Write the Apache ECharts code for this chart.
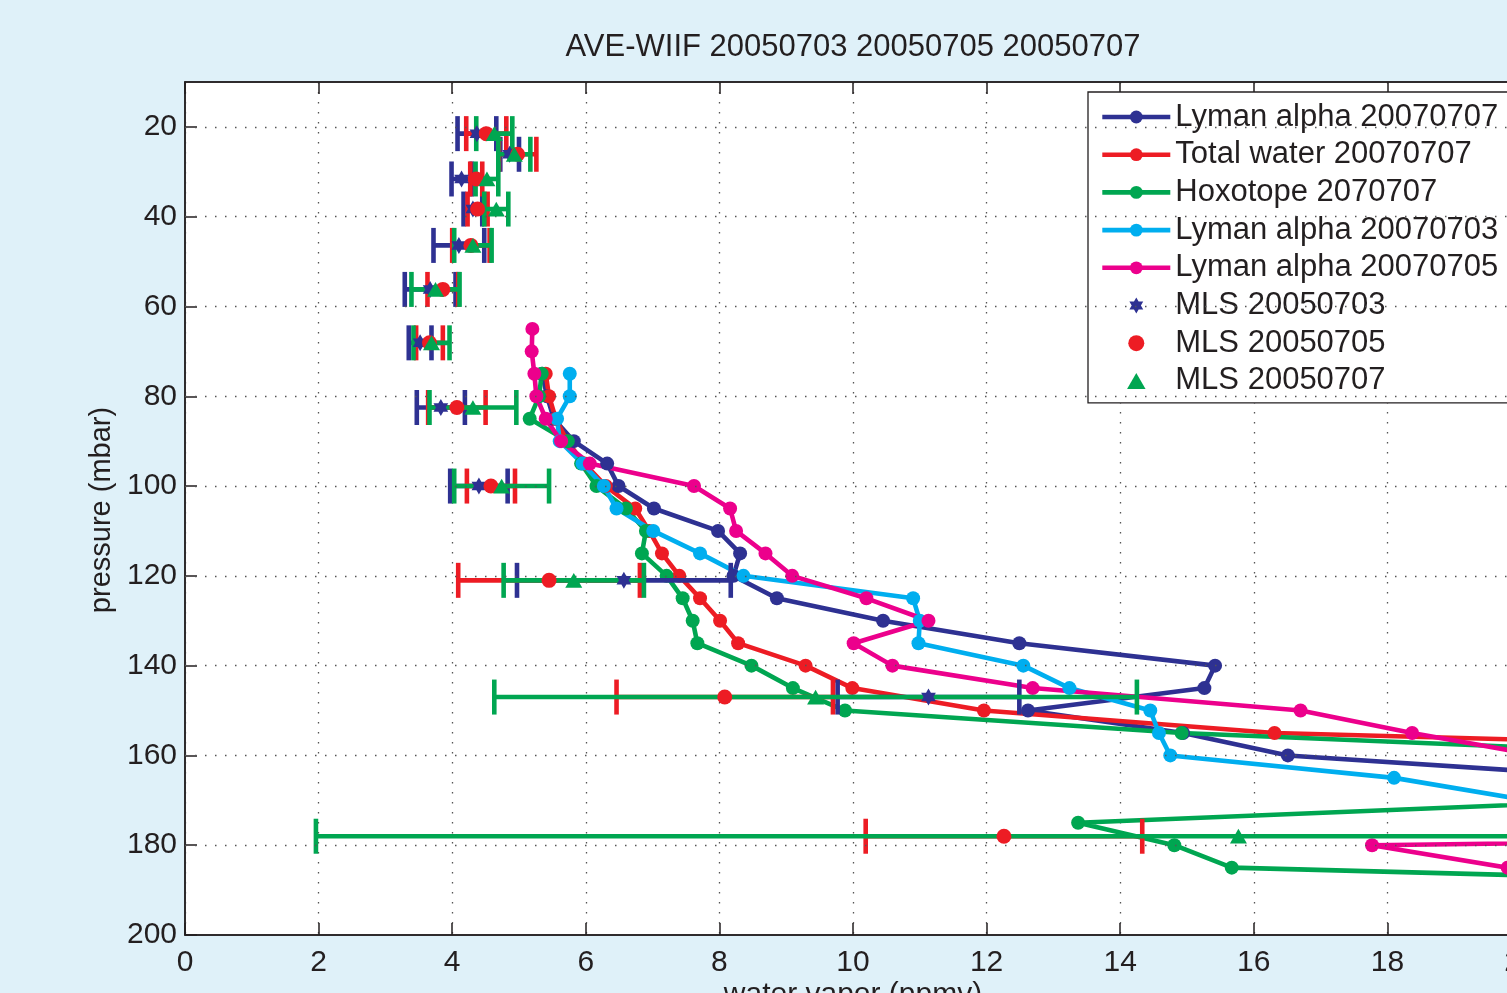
<!DOCTYPE html>
<html>
<head>
<meta charset="utf-8">
<title>AVE-WIIF water vapor profiles</title>
<script src="https://cdn.jsdelivr.net/npm/echarts@6/dist/echarts.min.js"></script>
<style>
  html, body { margin: 0; padding: 0; background: #dff1f9; }
  #chart { width: 1507px; height: 993px; }
</style>
</head>
<body>
<div id="chart"></div>
<script>
// ---- Profiles: [water vapor (ppmv), pressure (mbar)] ----
const lymanAlpha0707 = [[5.35,75],[5.42,80],[5.52,85],[5.82,90],[6.32,95],[6.49,100],[7.02,105],[7.98,110],[8.31,115],[8.21,120],[8.86,125],[10.45,130],[12.49,135],[15.42,140],[15.26,145],[12.62,150],[14.94,155],[16.51,160],[21.6,165]];
const totalWater0707 = [[5.40,75],[5.45,80],[5.55,85],[5.72,90],[5.98,95],[6.30,100],[6.74,105],[6.95,110],[7.14,115],[7.40,120],[7.71,125],[8.01,130],[8.28,135],[9.29,140],[9.99,145],[11.96,150],[16.31,155],[28.7,160]];
const hoxotope0707 = [[5.34,75],[5.30,80],[5.16,85],[5.73,90],[5.93,95],[6.16,100],[6.60,105],[6.90,110],[6.84,115],[7.21,120],[7.45,125],[7.60,130],[7.67,135],[8.48,140],[9.10,145],[9.88,150],[14.92,155],[23.0,160],[24.0,165],[21.6,170],[13.37,175],[14.81,180],[15.67,185],[28.5,190]];
const lymanAlpha0703 = [[5.76,75],[5.76,80],[5.57,85],[5.61,90],[5.95,95],[6.27,100],[6.46,105],[7.01,110],[7.71,115],[8.36,120],[10.90,125],[11.00,130],[10.98,135],[12.55,140],[13.24,145],[14.45,150],[14.58,155],[14.75,160],[18.10,165],[20.1,170]];
const lymanAlpha0705 = [[5.20,65],[5.19,70],[5.23,75],[5.26,80],[5.40,85],[5.63,90],[6.06,95],[7.62,100],[8.16,105],[8.25,110],[8.69,115],[9.09,120],[10.20,125],[11.13,130],[10.01,135],[10.59,140],[12.69,145],[16.70,150],[18.37,155],[20.25,160],[45,175],[17.77,180],[19.80,185]];

// ---- MLS retrievals: value and symmetric error at each pressure level ----
const mlsLevels  = [21.5, 26.1, 31.6, 38.3, 46.4, 56.2, 68.1, 82.5, 100, 121, 147, 178];
const mls0703    = [4.37, 4.86, 4.14, 4.31, 4.10, 3.67, 3.52, 3.83, 4.40, 6.57, 11.13, null];
const mls0703Err = [0.29, 0.14, 0.15, 0.14, 0.38, 0.38, 0.17, 0.36, 0.43, 1.60, 1.36, null];
const mls0705    = [4.51, 4.98, 4.36, 4.38, 4.28, 3.86, 3.66, 4.07, 4.58, 5.45, 8.08, 12.26];
const mls0705Err = [0.30, 0.28, 0.09, 0.15, 0.28, 0.23, 0.20, 0.43, 0.36, 1.36, 1.62, 2.07];
const mls0707    = [4.63, 4.93, 4.52, 4.66, 4.31, 3.75, 3.69, 4.31, 4.74, 5.82, 9.44, 15.77];
const mls0707Err = [0.27, 0.24, 0.17, 0.18, 0.28, 0.36, 0.27, 0.65, 0.71, 1.05, 4.81, 13.81];

// ---- Axis ticks ----
const pressureTicks = [20, 40, 60, 80, 100, 120, 140, 160, 180, 200];
const pressureGrid  = [20, 40, 60, 80, 100, 120, 140, 160, 180];

const INK = '#231f20';
const NAVY = '#2e3192', RED = '#ed1c24', GREEN = '#00a651', CYAN = '#00aeef', PINK = '#ec008c';
const FONT = '"Liberation Sans", Arial, Helvetica, sans-serif';

// six-pointed star marker
function hexagramPath() {
  const pts = [];
  for (let i = 0; i < 12; i++) {
    const a = -Math.PI / 2 + i * Math.PI / 6;
    const r = i % 2 === 0 ? 1 : 0.577;
    pts.push((r * Math.cos(a)).toFixed(3) + ' ' + (r * Math.sin(a)).toFixed(3));
  }
  return 'path://M' + pts.join(' L') + ' Z';
}
const STAR = hexagramPath();
const TRIANGLE = 'path://M0 -1 L0.866 0.5 L-0.866 0.5 Z';

function pointsOf(values) {
  const out = [];
  mlsLevels.forEach((p, i) => { if (values[i] != null) out.push([values[i], p]); });
  return out;
}
function barsOf(values, errs) {
  const out = [];
  mlsLevels.forEach((p, i) => {
    if (values[i] != null) out.push([values[i], p, values[i] - errs[i], values[i] + errs[i]]);
  });
  return out;
}

function errorBarSeries(name, color, data) {
  return {
    type: 'custom',
    name: name,
    data: data,
    encode: { x: 0, y: 1 },
    clip: true,
    silent: true,
    z: 4,
    renderItem: function (params, api) {
      const p = api.value(1);
      const a = api.coord([api.value(2), p]);
      const b = api.coord([api.value(3), p]);
      const h = 17.5;
      const style = { stroke: color, lineWidth: 4.6, fill: null };
      return {
        type: 'group',
        children: [
          { type: 'line', shape: { x1: a[0], y1: a[1], x2: b[0], y2: b[1] }, style: style },
          { type: 'line', shape: { x1: a[0], y1: a[1] - h, x2: a[0], y2: a[1] + h }, style: style },
          { type: 'line', shape: { x1: b[0], y1: b[1] - h, x2: b[0], y2: b[1] + h }, style: style }
        ]
      };
    }
  };
}

function profileSeries(name, color, data) {
  return {
    type: 'line',
    name: name,
    data: data,
    color: color,
    symbol: 'circle',
    symbolSize: 14,
    showSymbol: true,
    clip: true,
    z: 3,
    lineStyle: { width: 4.6, color: color },
    itemStyle: { color: color },
    emphasis: { disabled: true }
  };
}

function markerSeries(name, color, symbol, size, data) {
  return {
    type: 'scatter',
    name: name,
    data: data,
    color: color,
    symbol: symbol,
    symbolSize: size,
    symbolKeepAspect: true,
    clip: true,
    z: 5,
    itemStyle: { color: color, opacity: 1 },
    emphasis: { disabled: true }
  };
}

const legendNames = [
  'Lyman alpha 20070707', 'Total water 20070707', 'Hoxotope 2070707',
  'Lyman alpha 20070703', 'Lyman alpha 20070705',
  'MLS 20050703', 'MLS 20050705', 'MLS 20050707'
];

const axisLineStyle = { color: INK, width: 1.5 };
const dotted = { type: [1.5, 8.5], color: '#555', width: 1.3 };

const option = {
  backgroundColor: '#dff1f9',
  animation: false,
  textStyle: { fontFamily: FONT },
  grid: {
    left: 185, top: 82, width: 1336, height: 853,
    show: true, backgroundColor: '#ffffff', borderColor: INK, borderWidth: 1.5,
    containLabel: false, outerBoundsMode: 'none'
  },
  xAxis: [
    {
      type: 'value', min: 0, max: 20, interval: 2, position: 'bottom',
      axisLine: { show: true, lineStyle: axisLineStyle },
      axisTick: { show: true, inside: true, length: 12, lineStyle: axisLineStyle },
      axisLabel: { fontSize: 30, color: INK, margin: 13, fontFamily: FONT, showMinLabel: true, showMaxLabel: true, hideOverlap: false },
      splitLine: { show: true, lineStyle: dotted }
    },
    {
      type: 'value', min: 0, max: 20, interval: 2, position: 'top',
      axisLine: { show: true, lineStyle: axisLineStyle },
      axisTick: { show: true, inside: true, length: 12, lineStyle: axisLineStyle },
      axisLabel: { show: false },
      splitLine: { show: false }
    }
  ],
  yAxis: {
    type: 'value', min: 10, max: 200, inverse: true,
    axisLine: { show: true, lineStyle: axisLineStyle },
    axisTick: { show: true, inside: true, length: 12, lineStyle: axisLineStyle, customValues: pressureTicks },
    axisLabel: { fontSize: 30, color: INK, margin: 8, fontFamily: FONT, customValues: pressureTicks, hideOverlap: false, padding: [4, 0, 0, 0] },
    splitLine: { show: false }
  },
  legend: {
    orient: 'vertical',
    left: 1088, top: 92,
    backgroundColor: '#ffffff',
    borderColor: INK, borderWidth: 1.3, borderRadius: 0,
    padding: [9.5, 30, 6.5, 12],
    itemGap: 6.7, itemWidth: 68, itemHeight: 16,
    symbolKeepAspect: true,
    selectedMode: false,
    lineStyle: { width: 4.6 },
    textStyle: { fontSize: 31, color: INK, lineHeight: 31, fontFamily: FONT },
    data: legendNames
  },
  graphic: [
    {
      type: 'text', x: 853, y: 47, silent: true,
      style: { text: 'AVE-WIIF 20050703 20050705 20050707', fontSize: 31, fontFamily: FONT, fill: INK, align: 'center', verticalAlign: 'middle' }
    },
    {
      type: 'text', x: 102, y: 510, rotation: Math.PI / 2, silent: true,
      style: { text: 'pressure (mbar)', fontSize: 29, fontFamily: FONT, fill: INK, align: 'center', verticalAlign: 'middle' }
    },
    {
      type: 'text', x: 853, y: 995, silent: true,
      style: { text: 'water vapor (ppmv)', fontSize: 30, fontFamily: FONT, fill: INK, align: 'center', verticalAlign: 'middle' }
    }
  ],
  series: [
    // dotted pressure grid
    {
      type: 'line', name: 'pressure grid', data: [], silent: true, z: 1,
      markLine: {
        silent: true, symbol: ['none', 'none'], animation: false,
        label: { show: false },
        lineStyle: dotted,
        emphasis: { disabled: true },
        data: pressureGrid.map(v => ({ yAxis: v }))
      }
    },
    profileSeries('Lyman alpha 20070707', NAVY, lymanAlpha0707),
    profileSeries('Total water 20070707', RED, totalWater0707),
    profileSeries('Hoxotope 2070707', GREEN, hoxotope0707),
    profileSeries('Lyman alpha 20070703', CYAN, lymanAlpha0703),
    profileSeries('Lyman alpha 20070705', PINK, lymanAlpha0705),
    errorBarSeries('MLS 20050703 error', NAVY, barsOf(mls0703, mls0703Err)),
    errorBarSeries('MLS 20050705 error', RED, barsOf(mls0705, mls0705Err)),
    errorBarSeries('MLS 20050707 error', GREEN, barsOf(mls0707, mls0707Err)),
    markerSeries('MLS 20050703', NAVY, STAR, 17, pointsOf(mls0703)),
    markerSeries('MLS 20050705', RED, 'circle', 15, pointsOf(mls0705)),
    markerSeries('MLS 20050707', GREEN, TRIANGLE, 17, pointsOf(mls0707))
  ]
};

const chart = echarts.init(document.getElementById('chart'), null, { renderer: 'canvas' });
chart.setOption(option);
</script>
</body>
</html>
